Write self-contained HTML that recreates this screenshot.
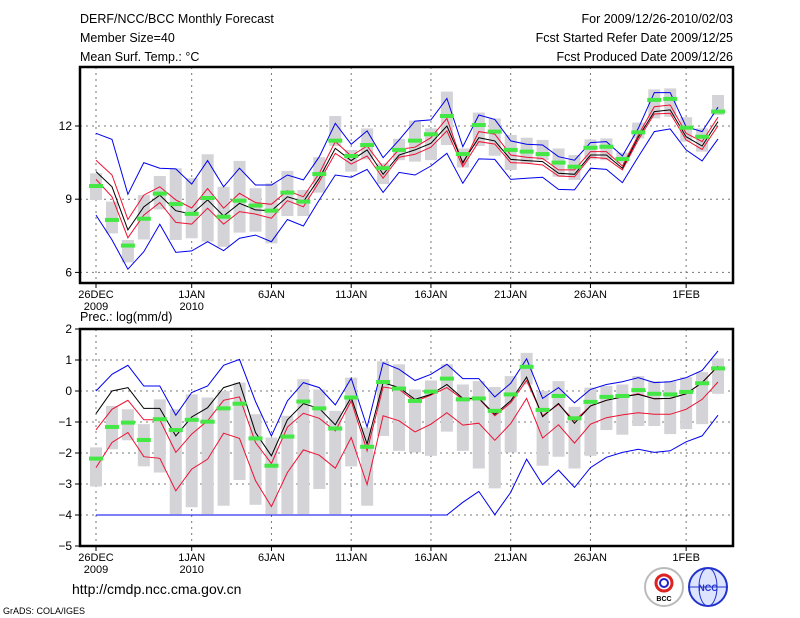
<!DOCTYPE html>
<html><head><meta charset="utf-8"><style>
body{margin:0;background:#fff;}
svg{display:block;font-family:"Liberation Sans",sans-serif;}
</style></head><body>
<svg id="c" width="800" height="618" viewBox="0 0 800 618">
<rect width="800" height="618" fill="#fff"/>
<g font-size="12.5" fill="#000">
<text x="80" y="23">DERF/NCC/BCC Monthly Forecast</text>
<text x="80" y="42">Member Size=40</text>
<text x="80" y="61">Mean Surf. Temp.: °C</text>
<text x="733" y="23" text-anchor="end">For 2009/12/26-2010/02/03</text>
<text x="733" y="42" text-anchor="end">Fcst Started Refer Date 2009/12/25</text>
<text x="733" y="61" text-anchor="end">Fcst Produced Date 2009/12/26</text>
<text x="80" y="321">Prec.: log(mm/d)</text>
<text x="72" y="594" font-size="14">http://cmdp.ncc.cma.gov.cn</text>
<text x="3" y="614" font-size="9">GrADS: COLA/IGES</text>
</g>
<g>
<circle cx="664" cy="587" r="19" fill="#fff" stroke="#bbb" stroke-width="2"/>
<circle cx="664" cy="583" r="8" fill="none" stroke="#d22" stroke-width="3"/>
<circle cx="664" cy="583" r="4" fill="none" stroke="#22c" stroke-width="2"/>
<text x="664" y="601" font-size="7" text-anchor="middle" font-weight="bold">BCC</text>
</g>
<g>
<circle cx="708" cy="587" r="19" fill="#dde4ff" stroke="#23c" stroke-width="2"/>
<ellipse cx="708" cy="587" rx="9" ry="19" fill="none" stroke="#23c"/>
<line x1="689" y1="587" x2="727" y2="587" stroke="#23c"/>
<text x="708" y="591" font-size="9" text-anchor="middle" fill="#23c" font-weight="bold">NCC</text>
</g>
</svg>
<script>
// ---- Temperature panel data ----
const tBlueU=[11.7,11.45,9.2,10.5,10.27,10.24,9.62,10.58,9.51,10.27,9.58,9.58,9.99,9.79,10.74,12.11,11.25,11.8,10.7,11.43,12.2,12.25,13.13,11.15,12.45,12.27,11.39,11.25,11.22,10.74,10.6,11.32,11.36,10.77,11.9,13.37,13.37,11.97,11.77,12.77];
const tRedU=[10.6,9.99,8.17,9.17,9.51,8.97,8.64,9.44,8.63,9.24,8.86,8.79,9.35,9.1,10.06,11.36,10.77,11.18,10.31,11.04,11.13,11.52,12.31,10.44,11.77,11.67,10.81,10.72,10.67,10.2,10.2,10.95,10.95,10.36,11.63,12.79,12.86,11.7,11.36,12.36];
const tMean=[10.13,9.51,7.74,8.69,9.17,8.53,8.39,8.97,8.31,8.83,8.56,8.53,9.1,8.9,9.86,11.08,10.58,11.02,10.02,10.81,11.02,11.29,12,10.51,11.52,11.39,10.63,10.58,10.54,10.06,10.02,10.81,10.81,10.27,11.54,12.59,12.66,11.56,11.18,12.18];
const tRedL=[9.81,9.1,7.42,8.35,8.86,8.05,7.98,8.63,7.98,8.49,8.39,8.22,8.94,8.69,9.72,10.88,10.44,10.77,9.86,10.72,10.84,11.13,11.8,10.33,11.36,11.26,10.5,10.47,10.4,9.95,9.92,10.72,10.67,10.2,11.43,12.49,12.52,11.43,11.04,12.01];
const tBlueL=[8.35,7.33,6.13,6.85,7.97,6.82,6.88,7.26,6.89,7.4,7.53,7.26,8.17,7.9,8.97,9.99,9.9,10.22,9.28,10.1,9.99,10.36,10.88,9.65,10.65,10.63,9.81,9.86,9.9,9.4,9.38,10.27,10.22,9.68,10.74,11.77,11.88,11.02,10.57,11.47];
const tObs=[9.54,8.15,7.1,8.2,9.23,8.8,8.4,9.05,8.28,8.94,8.74,8.53,9.27,8.9,10.03,11.4,10.77,11.22,10.27,11.02,11.4,11.66,12.41,10.85,12.04,11.77,11.02,10.95,10.85,10.5,10.33,11.11,11.15,10.65,11.74,13.07,13.11,11.93,11.56,12.59];
const tBarHi=[10.06,8.9,7.33,9.17,9.95,10.27,9.86,10.84,9.51,10.57,9.45,9.65,10.16,9.38,10.72,12.41,11.02,11.9,10.47,11.47,12.22,11.9,13.41,11.08,12.55,12.31,11.63,11.52,11.43,11.08,10.81,11.45,11.49,10.91,12.14,13.5,13.54,12.36,11.9,13.27];
const tBarLo=[8.97,7.6,6.41,7.35,8.58,7.33,7.4,7.26,7.05,7.63,7.67,7.19,8.31,8.31,9.27,11.18,10.13,10.63,9.62,10.6,10.54,10.6,11.22,10.3,11.18,10.78,10.2,10.47,10.6,9.92,9.79,10.63,10.6,10.47,11.49,12.31,12.38,11.36,10.95,12.45];
const tTicks=[6,9,12];
// ---- Precipitation panel data ----
const pBlueU=[0,0.54,0.83,0.16,0.16,-0.78,-0.05,0.16,0.83,1.02,-0.34,-1.45,-0.32,0.27,0.11,-0.45,0.41,-1.16,0.91,0.7,0.34,0.54,0.86,0.4,0.4,-0.19,0.25,1.04,-0.24,0.11,-0.38,0.05,0.21,0.3,0.43,0.27,0.3,0.43,0.66,1.29];
const pMean=[-0.73,0,0.11,-0.56,-0.56,-1.45,-0.84,-0.54,0.11,0.27,-1.34,-2.09,-0.93,-0.41,-0.56,-1.09,-0.21,-1.71,0.27,0.11,-0.27,-0.11,0.21,-0.24,-0.24,-0.75,-0.32,0.45,-0.83,-0.4,-1.04,-0.48,-0.3,-0.19,-0.11,-0.25,-0.24,-0.09,0.27,0.8];
const pRedU=[-1.25,-0.59,-0.3,-0.93,-0.93,-1.98,-1.39,-0.96,-0.3,-0.19,-1.66,-2.34,-1.16,-0.72,-0.88,-1.29,-0.32,-1.93,0.13,0.05,-0.34,-0.13,0.11,-0.27,-0.24,-0.8,-0.38,0.34,-0.8,-0.43,-0.96,-0.48,-0.3,-0.19,-0.09,-0.25,-0.24,-0.09,0.27,0.8];
const pRedL=[-2.47,-1.66,-1.34,-2.12,-2.17,-3.22,-2.52,-2.2,-1.36,-1.53,-2.89,-3.73,-2.63,-1.9,-2.07,-2.49,-1.5,-3.02,-0.8,-0.96,-1.32,-1.07,-0.7,-1.1,-1.04,-1.59,-1.05,-0.24,-1.52,-1.09,-1.68,-1.07,-0.86,-0.77,-0.7,-0.75,-0.75,-0.59,-0.27,0.29];
const pBlueL=[-4,-4,-4,-4,-4,-4,-4,-4,-4,-4,-4,-4,-4,-4,-4,-4,-4,-4,-4,-4,-4,-4,-4,-3.59,-3.24,-3.99,-3.27,-2.2,-3.02,-2.55,-3.11,-2.47,-2.14,-1.98,-1.88,-1.98,-1.93,-1.64,-1.45,-0.78];
const pObs=[-2.18,-1.16,-1.02,-1.58,-0.91,-1.26,-0.93,-0.99,-0.56,-0.41,-1.53,-2.41,-1.47,-0.34,-0.56,-1.21,-0.21,-1.8,0.29,0.08,-0.32,-0.02,0.4,-0.27,-0.24,-0.64,-0.11,0.78,-0.61,-0.16,-0.88,-0.35,-0.19,-0.16,0.03,-0.09,-0.11,-0.03,0.25,0.73];
const pBarHi=[-1.82,-0.48,-0.59,-1.07,-0.27,-0.59,-0.11,-0.21,0,0.27,-0.75,-1.5,-0.8,0.38,0.05,-0.64,0.43,-1.18,0.96,0.86,0.05,0.34,0.86,0.21,0.32,0.13,0.48,1.23,0,0.32,-0.51,0.11,0.16,0.21,0.48,0.32,0.32,0.45,0.61,1.05];
const pBarLo=[-3.08,-1.88,-1.59,-2.43,-2.63,-3.97,-3.75,-3.97,-3.7,-2.87,-3.67,-3.97,-3.97,-3.97,-3.16,-3.97,-2.43,-3.7,-1.45,-1.93,-1.98,-2.09,-1.31,-1.93,-2.5,-3.14,-1.98,0.21,-2.41,-2.12,-2.5,-2.09,-1.26,-1.41,-1.13,-1.13,-1.39,-1.23,-1.07,-0.09];
const pTicks=[-5,-4,-3,-2,-1,0,1,2];
// ---- x axis ----
const dateIdx=[0,6,11,16,21,26,31,37];
const dateLbl=['26DEC','1JAN','6JAN','11JAN','16JAN','21JAN','26JAN','1FEB'];
const yearLbl=['2009','2010','','','','','',''];

const NS='http://www.w3.org/2000/svg';
const svg=document.getElementById('c');
const X0=80,X1=733;
const xs=d=>96+15.95*d;
function mk(tag,attrs,parent){const e=document.createElementNS(NS,tag);for(const k in attrs)e.setAttribute(k,attrs[k]);(parent||svg).appendChild(e);return e;}

function panel(name,top,bot,vmin,vmax,ticks,series,obs,hi,lo){
  const ys=v=>bot-(v-vmin)/(vmax-vmin)*(bot-top);
  const g=mk('g',{});
  
  
  ticks.forEach(t=>{const y=ys(t);if(y>top+2&&y<bot-2){const l=mk('line',{x1:X0,x2:X1,y1:y,y2:y,stroke:'#777','stroke-dasharray':'2,4','stroke-width':1},g);}});
  dateIdx.forEach(d=>{const x=xs(d);const l=mk('line',{x1:x,x2:x,y1:top,y2:bot,stroke:'#777','stroke-dasharray':'2,4','stroke-width':1},g);});
  hi.forEach((h,i)=>{const y1=ys(h),y2=ys(lo[i]);const r=mk('rect',{x:xs(i)-6,y:y1,width:12,height:Math.max(1,y2-y1),fill:'#d3d3d8'},g);});
  series.forEach(s=>{const p=mk('polyline',{points:s.v.map((v,i)=>xs(i).toFixed(1)+','+ys(v).toFixed(1)).join(' '),fill:'none',stroke:s.c,'stroke-width':1},g);});
  obs.forEach((v,i)=>{const r=mk('rect',{x:xs(i)-7,y:ys(v)-2,width:14,height:4,fill:'#44e844'},g);});
  const f=mk('rect',{x:X0,y:top,width:X1-X0,height:bot-top,fill:'none',stroke:'#000','stroke-width':2.5},g);
  
  ticks.forEach(t=>{const y=ys(t);mk('line',{x1:X0-5,x2:X0,y1:y,y2:y,stroke:'#000'},g);const tx=mk('text',{x:X0-8,y:y+4,'font-size':12,'text-anchor':'end'},g);tx.textContent=t<0?'\u2212'+(-t):String(t);});
  dateIdx.forEach((d,i)=>{const x=xs(d);mk('line',{x1:x,x2:x,y1:bot,y2:bot+5,stroke:'#000'},g);const tx=mk('text',{x:x,y:bot+15,'font-size':11,'text-anchor':'middle'},g);tx.textContent=dateLbl[i];if(yearLbl[i]){const ty=mk('text',{x:x,y:bot+27,'font-size':11,'text-anchor':'middle'},g);ty.textContent=yearLbl[i];}});
}
panel('temperature-panel',67,283,12-(283-126)/24.4,12+(126-67)/24.4,tTicks,
 [{v:tBlueU,c:'#0000ee',n:'max-line'},{v:tBlueL,c:'#0000ee',n:'min-line'},{v:tRedU,c:'#ee1133',n:'upper-quartile-line'},{v:tRedL,c:'#ee1133',n:'lower-quartile-line'},{v:tMean,c:'#000',n:'ensemble-mean-line'}],tObs,tBarHi,tBarLo);
panel('precipitation-panel',329,546,-5,2,pTicks,
 [{v:pBlueU,c:'#0000ee',n:'max-line'},{v:pBlueL,c:'#0000ee',n:'min-line'},{v:pRedU,c:'#ee1133',n:'upper-quartile-line'},{v:pRedL,c:'#ee1133',n:'lower-quartile-line'},{v:pMean,c:'#000',n:'ensemble-mean-line'}],pObs,pBarHi,pBarLo);
</script>
</body></html>
